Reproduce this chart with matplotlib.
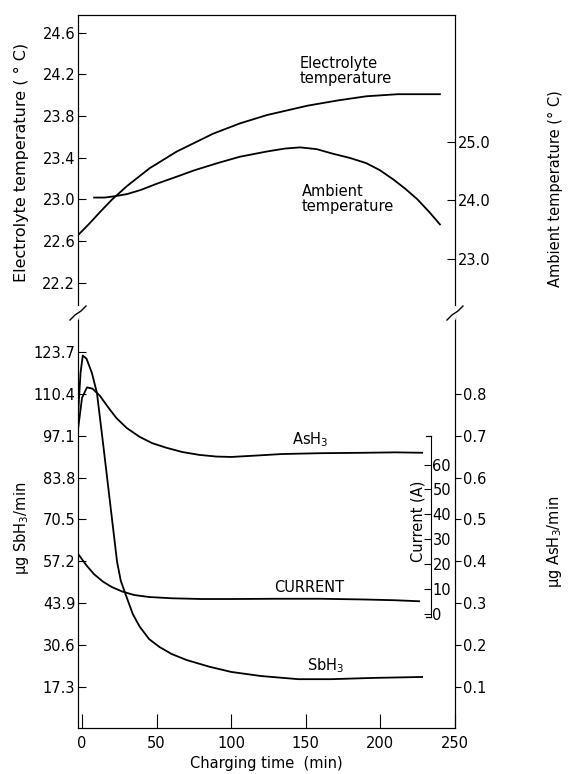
import matplotlib
matplotlib.use("Agg")
import matplotlib.pyplot as plt
from matplotlib.lines import Line2D

# ==========================================
# DATA
# ==========================================
# upper panel: electrolyte temperature (left axis, deg C)
time_elec = [-2.5, 5, 12, 20, 30, 45, 63, 87, 105, 123, 150, 170, 189, 210, 238]
elec_temp = [22.66, 22.77, 22.88, 23.00, 23.13, 23.30, 23.46, 23.63, 23.73, 23.81,
             23.90, 23.95, 23.99, 24.01, 24.01]

# upper panel: ambient temperature (right axis, deg C)
time_amb = [8, 15, 21, 30, 39, 50, 61, 75, 90, 105, 123, 135, 145, 156, 167, 178,
            189, 198, 207, 215, 223, 231, 238]
amb_temp = [24.05, 24.05, 24.07, 24.11, 24.18, 24.29, 24.39, 24.52, 24.64, 24.75,
            24.84, 24.89, 24.91, 24.88, 24.80, 24.73, 24.64, 24.52, 24.36, 24.20,
            24.02, 23.80, 23.59]

# lower panel: SbH3 evolution (ug/min, left axis)
time_sb = [-2.5, -1, 0.5, 3, 6.6, 10, 14, 18, 21, 23.5, 26, 29, 34, 38.6, 45, 52,
           60, 70, 85, 100, 120, 145, 167, 195, 228]
sbh3 = [105, 117, 122.5, 121.5, 117, 110.6, 95, 79, 67, 57, 51, 47, 40.5, 36.5,
        32.5, 30, 27.8, 25.9, 23.8, 22.1, 20.8, 19.8, 19.8, 20.2, 20.5]

# lower panel: AsH3 evolution (ug/min, right axis)
time_as = [-2.5, 0, 3.3, 7, 12, 17, 23, 30, 38.6, 47, 56.5, 67, 78.5, 90, 100, 115,
           134, 160, 189, 210, 228]
ash3 = [0.72, 0.79, 0.815, 0.812, 0.795, 0.77, 0.742, 0.718, 0.697, 0.682, 0.671,
        0.661, 0.654, 0.650, 0.649, 0.652, 0.656, 0.658, 0.659, 0.660, 0.659]

# lower panel: charging current (A)
time_cur = [-2.5, 3, 8, 14, 20, 27, 35, 45, 60, 80, 100, 130, 160, 190, 210, 226]
current = [24, 19.5, 16, 13, 10.8, 9, 7.6, 6.8, 6.3, 6.0, 6.0, 6.1, 6.1, 5.8, 5.5, 5.1]

elec_ticks = [22.2, 22.6, 23.0, 23.4, 23.8, 24.2, 24.6]
amb_ticks = [23.0, 24.0, 25.0]
sb_ticks = [17.3, 30.6, 43.9, 57.2, 70.5, 83.8, 97.1, 110.4, 123.7]
as_ticks = [0.1, 0.2, 0.3, 0.4, 0.5, 0.6, 0.7, 0.8]
cur_ticks = [0, 10, 20, 30, 40, 50, 60]
time_ticks = [0, 50, 100, 150, 200, 250]

# scale relations between twin axes
ELEC_LIM = (21.91, 24.77)
AMB_REF, ELEC_REF, AMB_SLOPE = 24.0, 22.99, 0.56   # elec = ELEC_REF + AMB_SLOPE*(amb-AMB_REF)
SB_LIM = (4.3, 136.0)
AS_OFF, AS_SLOPE = 4.0, 133.0                       # sb = AS_OFF + AS_SLOPE*as
CUR_OFF, CUR_SLOPE = 40.5, 0.79                     # sb = CUR_OFF + CUR_SLOPE*I
XLIM = (-2.7, 248)

plt.rcParams['font.family'] = 'DejaVu Sans'
plt.rcParams['font.size'] = 10.5
LW = 1.3

fig = plt.figure(figsize=(5.71, 7.74), dpi=100)
L, W = 0.1366, 0.6602
ax_top = fig.add_axes([L, 0.5956, W, 0.385])
ax_bot = fig.add_axes([L, 0.0594, W, 0.5362])

# ---------------- upper panel ----------------
ax_top.plot(time_elec, elec_temp, color="black", lw=LW)
ax_top.set_xlim(XLIM)
ax_top.set_ylim(ELEC_LIM)
ax_top.set_yticks(elec_ticks)
ax_top.set_yticklabels([f"{v:.1f}" for v in elec_ticks])
ax_top.tick_params(axis="y", direction="in", length=6, pad=2)
ax_top.tick_params(axis="x", bottom=False, labelbottom=False)
ax_top.spines["bottom"].set_visible(False)

ax_amb = ax_top.twinx()
ax_amb.plot(time_amb, amb_temp, color="black", lw=LW)
ax_amb.set_ylim([AMB_REF + (e - ELEC_REF) / AMB_SLOPE for e in ELEC_LIM])
ax_amb.set_yticks(amb_ticks)
ax_amb.set_yticklabels([f"{v:.1f}" for v in amb_ticks])
ax_amb.tick_params(axis="y", direction="in", length=6, pad=2)
ax_amb.spines["bottom"].set_visible(False)

ax_top.text(145, 24.38, "Electrolyte\ntemperature", ha="left", va="top", linespacing=1.05)
ax_top.text(146, 23.15, "Ambient\ntemperature", ha="left", va="top", linespacing=1.05)

# ---------------- lower panel ----------------
ax_bot.plot(time_sb, sbh3, color="black", lw=LW)
ax_bot.set_xlim(XLIM)
ax_bot.set_ylim(SB_LIM)
ax_bot.set_yticks(sb_ticks)
ax_bot.set_yticklabels([f"{v:.1f}" for v in sb_ticks])
ax_bot.set_xticks(time_ticks)
ax_bot.tick_params(axis="y", direction="in", length=6, pad=2)
ax_bot.tick_params(axis="x", direction="in", length=10, pad=6)
ax_bot.spines["top"].set_visible(False)
ax_bot.set_xlabel("Charging time  (min)", labelpad=3)

ax_as = ax_bot.twinx()
ax_as.plot(time_as, ash3, color="black", lw=LW)
ax_as.set_ylim([(s - AS_OFF) / AS_SLOPE for s in SB_LIM])
ax_as.set_yticks(as_ticks)
ax_as.set_yticklabels([f"{v:.1f}" for v in as_ticks])
ax_as.tick_params(axis="y", direction="out", length=4, pad=2)
ax_as.spines["top"].set_visible(False)

ax_cur = ax_bot.twinx()
ax_cur.plot(time_cur, current, color="black", lw=LW)
ax_cur.set_ylim([(s - CUR_OFF) / CUR_SLOPE for s in SB_LIM])
for side in ["top", "left", "bottom"]:
    ax_cur.spines[side].set_visible(False)
ax_cur.spines["right"].set_position(("data", 234))
ax_cur.spines["right"].set_bounds(-1.3, 71.5)
ax_cur.set_yticks(cur_ticks)
ax_cur.tick_params(axis="y", direction="in", length=5, pad=1)
for yb in (-1.3, 71.5):
    ax_cur.plot([230.5, 234], [yb, yb], color="black", lw=0.9, clip_on=False)

ax_bot.text(153, 92.8, "AsH$_3$", ha="center", va="bottom")
ax_bot.text(152, 46.5, "CURRENT", ha="center", va="bottom")
ax_bot.text(163, 21.2, "SbH$_3$", ha="center", va="bottom")
ax_bot.text(225, 70, "Current (A)", rotation=90, ha="center", va="center")

# axis titles
fig.text(21 / 571, 1 - 162 / 774, "Electrolyte temperature ( ° C)", rotation=90,
         ha="center", va="center", fontsize=11.5)
fig.text(22 / 571, 1 - 528 / 774, "μg SbH$_3$/min", rotation=90, ha="center", va="center")
fig.text(555 / 571, 1 - 189 / 774, "Ambient temperature (° C)", rotation=90,
         ha="center", va="center")
fig.text(555 / 571, 1 - 542 / 774, "μg AsH$_3$/min", rotation=90, ha="center", va="center")

# axis break marks on both side spines
yb = 0.5956
for xb in (L, L + W):
    fig.add_artist(Line2D([xb - 0.002, xb + 0.002], [yb - 0.006, yb + 0.006],
                          color="white", lw=3, transform=fig.transFigure))
    fig.add_artist(Line2D([xb - 8 / 571, xb - 3 / 571, xb + 3 / 571, xb + 8 / 571],
                          [yb - 7 / 774, yb - 2 / 774, yb + 2 / 774, yb + 7 / 774],
                          color="black", lw=1.0, transform=fig.transFigure))

fig.savefig("out.png", dpi=100)
